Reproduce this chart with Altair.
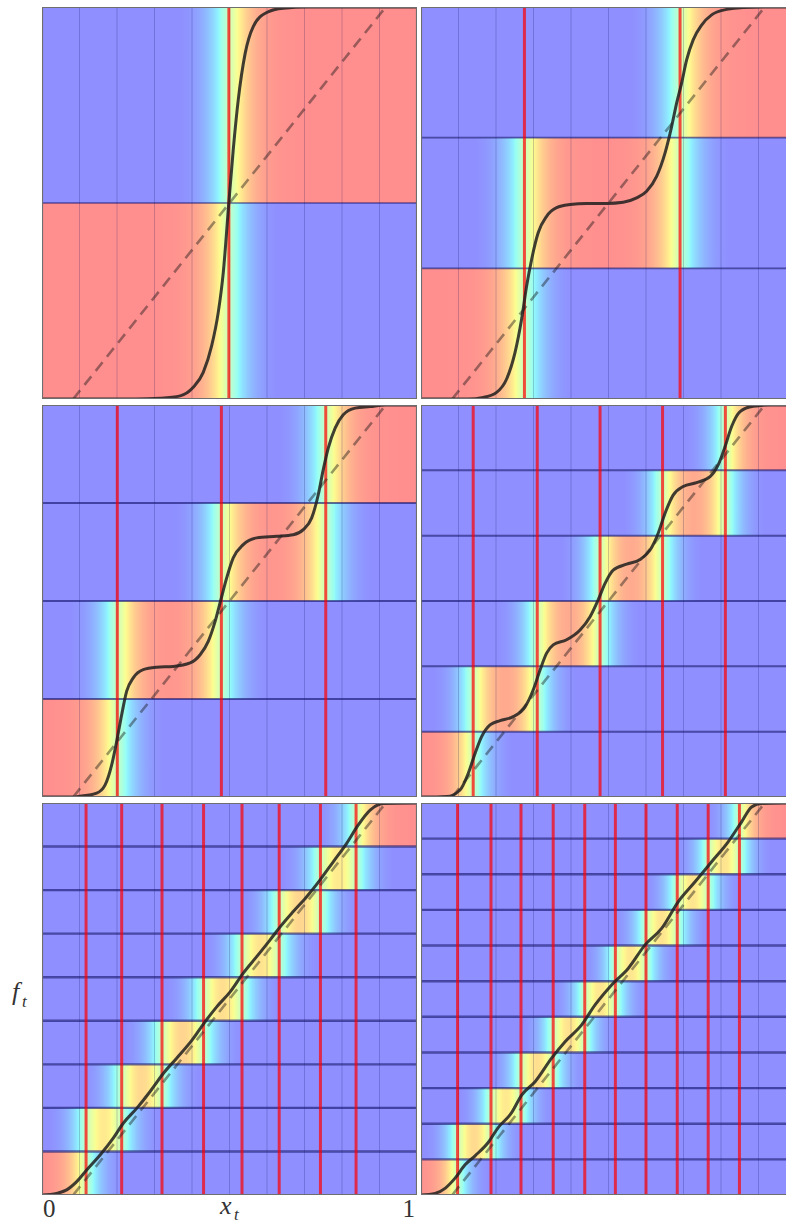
import altair as alt
import numpy as np
import pandas as pd

# ---------------------------------------------------------------------------
# Staircase approximations f_t(x_t) for an increasing number of output bands.
# ---------------------------------------------------------------------------
BANDS = [2, 3, 4, 6, 9, 11]

# x positions where one band hands over to the next (red markers)
CROSSINGS = [
    [0.498],
    [0.231, 0.729],
    [0.141, 0.474, 0.808],
    [0.067, 0.272, 0.473, 0.673, 0.874],
    [0.041, 0.155, 0.284, 0.417, 0.540, 0.659, 0.791, 0.905],
    [0.017, 0.124, 0.220, 0.323, 0.424, 0.522, 0.620, 0.720, 0.819, 0.919],
]

# width of the soft hand-over between neighbouring bands
SOFTNESS = [0.040, 0.040, 0.038, 0.032, 0.031, 0.026]

CURVE_X = [
    [-0.10, 0.20, 0.278, 0.342, 0.384, 0.416, 0.443, 0.464, 0.480, 0.498,
     0.512, 0.528, 0.550, 0.576, 0.619, 0.672, 0.75, 1.10],
    [-0.10, 0.05, 0.0995, 0.142, 0.174, 0.201, 0.222, 0.238, 0.254, 0.275,
     0.302, 0.334, 0.377, 0.430, 0.494, 0.547, 0.590, 0.622, 0.654, 0.681,
     0.702, 0.718, 0.734, 0.750, 0.771, 0.798, 0.830, 0.878, 0.931, 1.0, 1.10],
    [-0.10, 0.0, 0.0216, 0.075, 0.102, 0.123, 0.139, 0.155, 0.171, 0.192,
     0.224, 0.267, 0.320, 0.374, 0.406, 0.432, 0.454, 0.472, 0.491, 0.512,
     0.544, 0.587, 0.651, 0.704, 0.736, 0.763, 0.784, 0.800, 0.816, 0.838,
     0.864, 0.902, 0.950, 1.0, 1.10],
    [-0.10, -0.05, -0.018, 0.025, 0.051, 0.073, 0.094, 0.121, 0.153, 0.195,
     0.233, 0.259, 0.281, 0.302, 0.323, 0.366, 0.409, 0.441, 0.467, 0.489,
     0.515, 0.558, 0.601, 0.633, 0.659, 0.681, 0.707, 0.739, 0.782, 0.825,
     0.851, 0.873, 0.894, 0.921, 0.963, 1.02, 1.10],
    [-0.10, -0.053, -0.021, 0.011, 0.043, 0.086, 0.128, 0.160, 0.203, 0.246,
     0.288, 0.331, 0.380, 0.420, 0.459, 0.502, 0.544, 0.587, 0.630, 0.662,
     0.704, 0.747, 0.790, 0.832, 0.875, 0.912, 0.950, 0.992, 1.10],
    [-0.10, -0.055, -0.023, 0.009, 0.041, 0.073, 0.115, 0.147, 0.190, 0.222,
     0.265, 0.318, 0.361, 0.414, 0.457, 0.510, 0.563, 0.617, 0.670, 0.723,
     0.777, 0.830, 0.883, 0.926, 0.958, 0.990, 1.10],
]
CURVE_Y = [
    [0.0, 0.0, 0.002, 0.008, 0.030, 0.068, 0.136, 0.221, 0.322, 0.502,
     0.636, 0.763, 0.881, 0.950, 0.986, 0.997, 1.0, 1.0],
    [0.0, 0.0, 0.004, 0.017, 0.051, 0.119, 0.204, 0.288, 0.356, 0.424,
     0.466, 0.488, 0.496, 0.499, 0.499, 0.502, 0.513, 0.530, 0.568, 0.628,
     0.695, 0.755, 0.806, 0.865, 0.916, 0.954, 0.980, 0.994, 0.999, 1.0, 1.0],
    [0.0, 0.0, 0.002, 0.010, 0.031, 0.082, 0.142, 0.210, 0.270, 0.304,
     0.325, 0.331, 0.333, 0.342, 0.363, 0.397, 0.448, 0.502, 0.559, 0.610,
     0.644, 0.661, 0.665, 0.669, 0.682, 0.712, 0.771, 0.835, 0.890, 0.941,
     0.975, 0.992, 0.996, 1.0, 1.0],
    [0.0, 0.0, 0.001, 0.018, 0.060, 0.111, 0.154, 0.184, 0.195, 0.205,
     0.230, 0.273, 0.324, 0.367, 0.388, 0.401, 0.426, 0.460, 0.503, 0.545,
     0.579, 0.594, 0.606, 0.630, 0.673, 0.724, 0.770, 0.792, 0.802, 0.817,
     0.847, 0.894, 0.945, 0.983, 0.997, 1.0, 1.0],
    [0.0, 0.004, 0.013, 0.034, 0.064, 0.102, 0.145, 0.183, 0.221, 0.264,
     0.310, 0.349, 0.395, 0.440, 0.480, 0.518, 0.566, 0.608, 0.651, 0.684,
     0.723, 0.761, 0.804, 0.850, 0.897, 0.944, 0.982, 0.999, 1.0],
    [0.0, 0.004, 0.017, 0.043, 0.077, 0.100, 0.134, 0.172, 0.210, 0.255,
     0.289, 0.349, 0.391, 0.434, 0.485, 0.536, 0.578, 0.638, 0.680, 0.748,
     0.799, 0.850, 0.901, 0.952, 0.990, 0.999, 1.0],
]

GRID_X = [0.02, 0.14, 0.26, 0.38, 0.50, 0.62, 0.74, 0.86, 0.98]
DIAG_X = [0.0, 1.0]
DIAG_Y = [0.0, 1.0]

# ---------------------------------------------------------------------------
X_MIN, X_MAX = -0.10, 1.10
PANEL_H = 392
LEFT_W, RIGHT_W = 375, 365
# the right-hand column runs off the page edge
RIGHT_XMAX = X_MIN + RIGHT_W / LEFT_W * (X_MAX - X_MIN)
ALPHA = 0.44
SERIF = "Liberation Serif"
EDGE_WIDTH = [1.5, 1.6, 2.0, 2.0, 2.4, 2.4]


def jet_on_white(v):
    """jet-like colour at v, laid over white with transparency ALPHA."""
    r = np.interp(v, [0, 0.35, 0.66, 0.91, 1], [0, 0, 1, 1, 0.5])
    g = np.interp(v, [0, 0.125, 0.375, 0.64, 0.91, 1], [0, 0, 1, 1, 0, 0])
    b = np.interp(v, [0, 0.11, 0.34, 0.65, 1], [0.5, 1, 1, 0, 0])
    rgb = [int(round(255 * (1 - ALPHA + ALPHA * c))) for c in (r, g, b)]
    return "#%02x%02x%02x" % tuple(rgb)


def logistic(z):
    return 1.0 / (1.0 + np.exp(-z))


def band_gradient(lo, hi, soft):
    xs = np.linspace(X_MIN, X_MAX, 301)
    rise = logistic((xs - lo) / soft) if lo is not None else np.ones_like(xs)
    fall = logistic((xs - hi) / soft) if hi is not None else np.zeros_like(xs)
    p = np.clip(rise - fall, 0, 1)
    cols = [jet_on_white(0.11 + 0.80 * v) for v in p]
    offs = (xs - X_MIN) / (X_MAX - X_MIN)
    stops = []
    for i, c in enumerate(cols):
        if 0 < i < len(cols) - 1 and c == cols[i - 1] and c == cols[i + 1]:
            continue
        stops.append(alt.GradientStop(color=c, offset=float(round(offs[i], 5))))
    return alt.Gradient(gradient="linear", stops=stops, x1=0, x2=1, y1=0, y2=0)


def panel(i, width, xmax, extra=()):
    xsc = alt.Scale(domain=[X_MIN, xmax], nice=False, zero=False)
    ysc = alt.Scale(domain=[0, 1], nice=False, zero=False)
    k = BANDS[i]
    cuts = CROSSINGS[i]
    layers = []

    # colour-coded bands
    for j in range(k):
        lo = cuts[j - 1] if j > 0 else None
        hi = cuts[j] if j < k - 1 else None
        df = pd.DataFrame({"x0": [X_MIN], "x1": [X_MAX],
                           "y0": [j / k], "y1": [(j + 1) / k]})
        layers.append(
            alt.Chart(df).mark_rect(color=band_gradient(lo, hi, SOFTNESS[i]), clip=True)
            .encode(x=alt.X("x0:Q", scale=xsc, axis=None), x2="x1:Q",
                    y=alt.Y("y0:Q", scale=ysc, axis=None), y2="y1:Q")
        )

    # faint vertical guides
    layers.append(
        alt.Chart(pd.DataFrame({"x": GRID_X}))
        .mark_rule(color="#000050", strokeWidth=1, opacity=0.2, clip=True)
        .encode(x=alt.X("x:Q", scale=xsc, axis=None))
    )
    # band edges
    layers.append(
        alt.Chart(pd.DataFrame({"y": [j / k for j in range(1, k)]}))
        .mark_rule(color="#14146e", strokeWidth=EDGE_WIDTH[i], opacity=0.62, clip=True)
        .encode(y=alt.Y("y:Q", scale=ysc, axis=None))
    )
    # hand-over positions
    layers.append(
        alt.Chart(pd.DataFrame({"x": cuts}))
        .mark_rule(color="#ff0000", strokeWidth=3, opacity=0.7, clip=True)
        .encode(x=alt.X("x:Q", scale=xsc, axis=None))
    )
    # identity reference
    layers.append(
        alt.Chart(pd.DataFrame({"x": DIAG_X, "y": DIAG_Y}))
        .mark_line(color="#101010", opacity=0.42, strokeWidth=2.6,
                   strokeDash=[11, 7], clip=True)
        .encode(x=alt.X("x:Q", scale=xsc, axis=None), y=alt.Y("y:Q", scale=ysc, axis=None))
    )
    # the staircase map
    layers.append(
        alt.Chart(pd.DataFrame({"x": CURVE_X[i], "y": CURVE_Y[i]}))
        .mark_line(color="#1e1e1e", opacity=0.85, strokeWidth=3,
                   interpolate="monotone", clip=True)
        .encode(x=alt.X("x:Q", scale=xsc, axis=None), y=alt.Y("y:Q", scale=ysc, axis=None))
    )
    # panel frame (its right side falls beyond the page edge on the right column)
    layers.append(
        alt.Chart(pd.DataFrame({"x0": [X_MIN], "x1": [X_MAX], "y0": [0.0], "y1": [1.0]}))
        .mark_rect(filled=False, stroke="#6e6e6e", strokeWidth=2.2, clip=True)
        .encode(x=alt.X("x0:Q", scale=xsc, axis=None), x2="x1:Q",
                y=alt.Y("y0:Q", scale=ysc, axis=None), y2="y1:Q")
    )
    layers.extend(extra)
    return alt.layer(*layers).properties(width=width, height=PANEL_H)


def label(text, x, y, size, italic=False, align="left"):
    return (
        alt.Chart(pd.DataFrame({"t": [text]}))
        .mark_text(font=SERIF, fontSize=size, fontStyle="italic" if italic else "normal",
                   align=align, baseline="alphabetic", color="#333333")
        .encode(text="t:N", x=alt.value(x), y=alt.value(y))
    )


def left_margin():
    # keeps the same left margin on every row so the columns line up
    return (
        alt.Chart(pd.DataFrame({"a": [0]})).mark_rect(opacity=0)
        .encode(x=alt.value(-42), x2=alt.value(-41), y=alt.value(0), y2=alt.value(1))
    )


# axis annotations carried by the bottom-left panel
annotations = [
    label("0", 1, 414, 25),
    label("1", 373, 414, 25, align="right"),
    label("x", 178, 411, 26, italic=True),
    label("t", 192, 417, 17, italic=True),
    label("f", -30, 197, 26, italic=True),
    label("t", -20, 204, 17, italic=True),
]

rows = []
for r in range(3):
    extra = [left_margin()] + (annotations if r == 2 else [])
    left = panel(2 * r, LEFT_W, X_MAX, extra)
    right = panel(2 * r + 1, RIGHT_W, RIGHT_XMAX)
    rows.append(alt.hconcat(left, right, spacing=4, bounds="flush"))

chart = (
    alt.vconcat(*rows, spacing=6)
    .properties(padding={"left": 0, "top": 7, "right": 0, "bottom": 0},
                background="#ffffff")
    .configure_view(strokeWidth=0)
)

chart.save("out.html", embed_options={"renderer": "svg", "actions": False})
